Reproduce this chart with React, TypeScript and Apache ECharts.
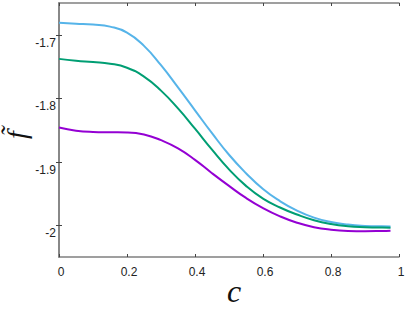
import React, { useEffect, useRef } from "react";
import * as echarts from "echarts";

const cValues = [0, 0.05, 0.1, 0.15, 0.2, 0.25, 0.3, 0.35, 0.4, 0.45, 0.5, 0.55, 0.6, 0.65, 0.7, 0.75, 0.8, 0.85, 0.9, 0.95, 0.975];
const blueValues = [-1.681, -1.6825, -1.684, -1.6872, -1.6965, -1.7175, -1.748, -1.783, -1.819, -1.855, -1.889, -1.918, -1.943, -1.962, -1.977, -1.988, -1.995, -1.999, -2.001, -2.0017, -2.0018];
const greenValues = [-1.738, -1.741, -1.743, -1.7455, -1.752, -1.766, -1.788, -1.816, -1.848, -1.881, -1.912, -1.938, -1.958, -1.972, -1.983, -1.992, -1.998, -2.0015, -2.003, -2.0037, -2.0038];
const purpleValues = [-1.846, -1.851, -1.853, -1.8535, -1.8538, -1.857, -1.866, -1.879, -1.897, -1.918, -1.938, -1.957, -1.973, -1.986, -1.996, -2.003, -2.007, -2.009, -2.0095, -2.009, -2.0085];
const xTickLabels = ["0", "0.2", "0.4", "0.6", "0.8", "1"];
const yTickValues = [-2, -1.9, -1.8, -1.7];
const yTickLabels = ["-2", "-1.9", "-1.8", "-1.7"];

const pairs = (ys: number[]) => cValues.map((c, i) => [c, ys[i]]);

export default function App() {
  const ref = useRef<HTMLDivElement>(null);
  useEffect(() => {
    if (!ref.current) return;
    const chart = echarts.init(ref.current, null, { renderer: "svg" });
    const axisLineStyle = { color: "#808080", width: 1.5 };
    const tickStyle = { color: "#444", width: 1 };
    chart.setOption({
      animation: false,
      grid: { left: 59, top: 3, right: 16, bottom: 55, show: false, outerBoundsMode: "none" },
      xAxis: [
        {
          type: "value",
          min: 0,
          max: 1,
          interval: 0.2,
          position: "bottom",
          axisLine: { show: true, lineStyle: axisLineStyle },
          axisTick: { show: true, inside: true, length: 3, lineStyle: tickStyle },
          splitLine: { show: false },
          axisLabel: {
            color: "#222",
            fontSize: 12,
            fontFamily: "Liberation Sans",
            margin: 9,
            padding: [0, 0, 0, 4],
            formatter: (v: number) => {
              const idx = Math.round(v / 0.2);
              return xTickLabels[idx] ?? "";
            },
          },
        },
        {
          type: "value",
          min: 0,
          max: 1,
          interval: 0.2,
          position: "top",
          axisLine: { show: true, lineStyle: axisLineStyle },
          axisTick: { show: true, inside: true, length: 3, lineStyle: tickStyle },
          axisLabel: { show: false },
          splitLine: { show: false },
        },
      ],
      yAxis: [
        {
          type: "value",
          min: -2.05,
          max: -1.65,
          position: "left",
          axisLine: { show: true, lineStyle: axisLineStyle },
          axisTick: { show: true, inside: true, length: 3, lineStyle: tickStyle, customValues: yTickValues },
          splitLine: { show: false },
          axisLabel: {
            color: "#222",
            fontSize: 12,
            fontFamily: "Liberation Sans",
            margin: 3,
            verticalAlign: "top",
            padding: [2, 0, 0, 0],
            customValues: yTickValues,
            formatter: (v: number) => {
              const idx = Math.round((v + 2) / 0.1);
              return yTickLabels[idx] ?? "";
            },
          },
        },
        {
          type: "value",
          min: -2.05,
          max: -1.65,
          position: "right",
          axisLine: { show: true, lineStyle: axisLineStyle },
          axisTick: { show: true, inside: true, length: 3, lineStyle: tickStyle, customValues: yTickValues },
          axisLabel: { show: false },
          splitLine: { show: false },
        },
      ],
      series: [
        { type: "line", data: pairs(blueValues), smooth: true, showSymbol: false, lineStyle: { color: "#56B4E9", width: 2 }, itemStyle: { color: "#56B4E9" }, xAxisIndex: 0, yAxisIndex: 0 },
        { type: "line", data: pairs(greenValues), smooth: true, showSymbol: false, lineStyle: { color: "#009E73", width: 2 }, itemStyle: { color: "#009E73" }, xAxisIndex: 0, yAxisIndex: 0 },
        { type: "line", data: pairs(purpleValues), smooth: true, showSymbol: false, lineStyle: { color: "#9400D3", width: 2 }, itemStyle: { color: "#9400D3" }, xAxisIndex: 0, yAxisIndex: 0 },
      ],
      graphic: [
        {
          type: "text",
          x: 16,
          y: 135,
          rotation: Math.PI / 2,
          style: {
            text: "f\u0303",
            font: "italic 28px 'Liberation Serif'",
            fill: "#111",
            align: "center",
            verticalAlign: "middle",
          },
        },
        {
          type: "text",
          x: 234,
          y: 291,
          style: {
            text: "c",
            font: "italic 32px 'Liberation Serif'",
            fill: "#111",
            align: "center",
            verticalAlign: "middle",
          },
        },
      ],
    });
    return () => chart.dispose();
  }, []);
  return <div ref={ref} style={{ width: 415, height: 312, position: "absolute", left: 0, top: 0 }} />;
}
